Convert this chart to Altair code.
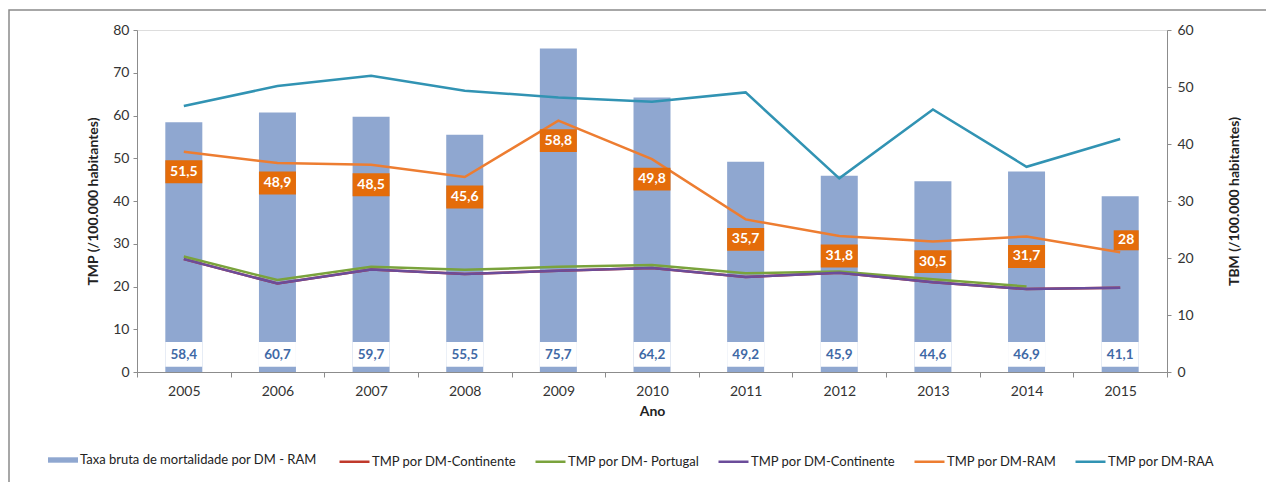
import altair as alt
import pandas as pd

anos = [2005, 2006, 2007, 2008, 2009, 2010, 2011, 2012, 2013, 2014, 2015]
tbm_ram = [58.4, 60.7, 59.7, 55.5, 75.7, 64.2, 49.2, 45.9, 44.6, 46.9, 41.1]
tmp_continente_a = [26.4, 20.7, 24.0, 22.9, 23.7, 24.3, 22.2, 23.2, 21.0, 19.4, 19.7]
tmp_portugal = [27.0, 21.5, 24.6, 23.9, 24.6, 25.0, 23.1, 23.5, 21.7, 20.0, None]
tmp_continente_b = [26.4, 20.7, 24.0, 22.9, 23.7, 24.3, 22.2, 23.2, 21.0, 19.4, 19.7]
tmp_ram = [51.5, 48.9, 48.5, 45.6, 58.8, 49.8, 35.7, 31.8, 30.5, 31.7, 28.0]
tmp_raa = [62.2, 66.9, 69.3, 65.8, 64.2, 63.2, 65.4, 45.3, 61.4, 48.0, 54.5]

bar_name = "Taxa bruta de mortalidade por DM - RAM"
series_names = ["TMP por DM-Continente", "TMP por DM- Portugal", "TMP por DM-Continente ",
                "TMP por DM-RAM", "TMP por DM-RAA"]
series_values = [tmp_continente_a, tmp_portugal, tmp_continente_b, tmp_ram, tmp_raa]
series_colors = ["#C0392B", "#7AA33C", "#6B4C9A", "#ED7D31", "#3193B3"]

FONT = "Lato"

df_bar = pd.DataFrame({"ano": anos, "tbm": tbm_ram, "serie_bar": bar_name,
                       "lab": [f"{v:.1f}".replace(".", ",") for v in tbm_ram]})
rows = []
for name, vals in zip(series_names, series_values):
    for a, v in zip(anos, vals):
        if v is not None:
            rows.append({"ano": a, "serie": name, "valor": v})
df_lines = pd.DataFrame(rows)

def fmt(v):
    s = f"{v:.1f}".replace(".", ",")
    return s[:-2] if s.endswith(",0") else s

df_ram = pd.DataFrame({"ano": anos, "valor": tmp_ram, "lab": [fmt(v) for v in tmp_ram]})

ys = alt.Scale(domain=[0, 80], nice=False)
ya = alt.Axis(values=list(range(0, 81, 10)), grid=False, domainColor="#8c8c8c", tickColor="#8c8c8c",
              tickSize=4, labelPadding=4, labelFont=FONT, labelFontSize=14, labelColor="#333333",
              title="TMP (/100.000 habitantes)", titleFont=FONT, titleFontSize=14,
              titleFontWeight="bold", titleColor="#222222", titlePadding=12)
xs = alt.Scale(paddingInner=0, paddingOuter=0)
xa = alt.Axis(title="Ano", labelAngle=0, tickBand="extent", domainColor="#8c8c8c", tickColor="#8c8c8c",
              tickSize=5, labelPadding=7, labelFont=FONT, labelFontSize=14, labelColor="#333333",
              titleFont=FONT, titleFontSize=14, titleFontWeight="bold", titleColor="#222222",
              titlePadding=6)
X = alt.X("ano:O", scale=xs, axis=xa)

frame = alt.Chart(pd.DataFrame({"a": [0]})).mark_rect(
    fillOpacity=0, stroke="#8a8a8a", strokeWidth=1.5
).encode(x=alt.value(-128), x2=alt.value(1400), y=alt.value(-20), y2=alt.value(700))

bars = alt.Chart(df_bar).mark_bar(size=37).encode(
    x=X,
    y=alt.Y("tbm:Q", scale=ys, axis=ya),
    fill=alt.Fill("serie_bar:N", scale=alt.Scale(domain=[bar_name], range=["#8FA7D0"]),
                  legend=alt.Legend(title=None, orient="none", legendX=-89, legendY=415,
                                    symbolType="M-1,-0.18H1V0.18H-1Z", symbolSize=900,
                                    symbolStrokeWidth=0, labelFont=FONT, labelFontSize=13,
                                    labelColor="#222222", labelOffset=2, padding=0,
                                    labelLimit=400)),
)

white_box = alt.Chart(df_bar).mark_bar(size=37, color="white").encode(
    x=X,
    y=alt.YDatum(1.2, scale=ys, axis=ya),
    y2=alt.Y2Datum(7.0),
)

bar_text = alt.Chart(df_bar).mark_text(font=FONT, fontSize=13.5, fontWeight="bold", color="#3F69A6").encode(
    x=X,
    y=alt.YDatum(4.0, scale=ys, axis=ya),
    text="lab:N",
)

line_layers = []
for name in series_names:
    line_layers.append(
        alt.Chart(df_lines).transform_filter(alt.datum.serie == name).mark_line(strokeWidth=2.5).encode(
            x=X,
            y=alt.Y("valor:Q", scale=ys, axis=ya),
            stroke=alt.Stroke("serie:N", scale=alt.Scale(domain=series_names, range=series_colors),
                              legend=alt.Legend(title=None, orient="none", legendX=201, legendY=415,
                                                direction="horizontal", columns=5,
                                                symbolType="stroke", symbolSize=900,
                                                symbolStrokeWidth=2.5, labelFont=FONT,
                                                labelFontSize=13, labelColor="#222222",
                                                labelOffset=1, columnPadding=13, padding=0,
                                                labelLimit=300)),
        )
    )

main_lab = df_ram[df_ram.ano != 2015]
last_lab = df_ram[df_ram.ano == 2015]

box = alt.Chart(main_lab).mark_point(
    shape="M-1,-0.62H1V0.62H-1Z", size=37 * 37, filled=True, opacity=1, color="#E46C0A", yOffset=20
).encode(x=X, y=alt.Y("valor:Q", scale=ys, axis=ya))
box_text = alt.Chart(main_lab).mark_text(
    font=FONT, fontSize=14, fontWeight="bold", color="white", dy=20
).encode(x=X, y=alt.Y("valor:Q", scale=ys, axis=ya), text="lab:N")

box2 = alt.Chart(last_lab).mark_point(
    shape="M-1,-0.8H1V0.8H-1Z", size=25 * 25, filled=True, opacity=1, color="#E46C0A",
    yOffset=-12, xOffset=6
).encode(x=X, y=alt.Y("valor:Q", scale=ys, axis=ya))
box2_text = alt.Chart(last_lab).mark_text(
    font=FONT, fontSize=14, fontWeight="bold", color="white", dy=-12, dx=6
).encode(x=X, y=alt.Y("valor:Q", scale=ys, axis=ya), text="lab:N")

left = alt.layer(frame, bars, white_box, bar_text, *line_layers, box, box_text, box2, box2_text)

right = alt.Chart(pd.DataFrame({"a": [0]})).mark_point(opacity=0).encode(
    y=alt.YDatum(0, scale=alt.Scale(domain=[0, 60], nice=False),
                 axis=alt.Axis(orient="right", values=list(range(0, 61, 10)), grid=False,
                               domainColor="#8c8c8c", tickColor="#8c8c8c", tickSize=4, labelPadding=6,
                               labelFont=FONT, labelFontSize=14, labelColor="#333333",
                               title="TBM (/100.000 habitantes)", titleFont=FONT, titleFontSize=14,
                               titleFontWeight="bold", titleColor="#222222", titleAngle=270,
                               titlePadding=48)),
)

chart = alt.layer(left, right).resolve_scale(y="independent").properties(
    width=1030, height=342, autosize="none",
    padding={"left": 129, "top": 22, "right": 99, "bottom": 110},
).configure_view(stroke=None).configure(background="white")

chart.save("out.html", embed_options={"renderer": "svg", "actions": False})
